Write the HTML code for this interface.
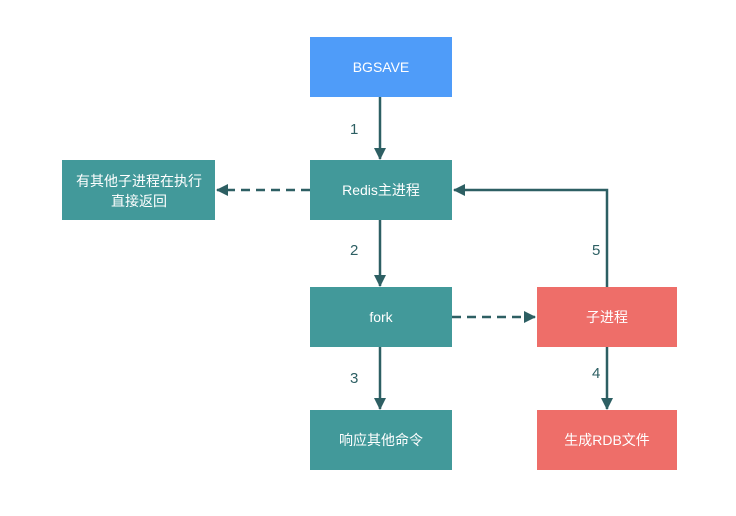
<!DOCTYPE html>
<html><head><meta charset="utf-8"><style>
body{margin:0;background:#fff;width:736px;height:511px;overflow:hidden}
svg text{font-family:"Liberation Sans","Noto Sans CJK SC",sans-serif;font-size:14px}
</style></head><body>
<svg width="736" height="511" xmlns="http://www.w3.org/2000/svg">
<defs><marker id="a" markerWidth="12" markerHeight="12" refX="11" refY="6" orient="auto" markerUnits="userSpaceOnUse"><path d="M0,0 L12,6 L0,12 z" fill="#2d5f63"/></marker></defs>
<g fill="#42999a">
<rect x="310" y="160" width="142" height="60"/>
<rect x="62" y="160" width="153" height="60"/>
<rect x="310" y="287" width="142" height="60"/>
<rect x="310" y="410" width="142" height="60"/>
</g>
<rect x="310" y="37" width="142" height="60" fill="#4f9cf9"/>
<rect x="537" y="287" width="140" height="60" fill="#ee6e69"/>
<rect x="537" y="410" width="140" height="60" fill="#ee6e69"/>
<g stroke="#2d5f63" stroke-width="2.5" fill="none">
<line x1="380" y1="97" x2="380" y2="159" marker-end="url(#a)"/>
<line x1="380" y1="220" x2="380" y2="286" marker-end="url(#a)"/>
<line x1="380" y1="347" x2="380" y2="409" marker-end="url(#a)"/>
<line x1="607" y1="347" x2="607" y2="409" marker-end="url(#a)"/>
<line x1="310" y1="190" x2="217" y2="190" stroke-dasharray="9,6" marker-end="url(#a)"/>
<line x1="452" y1="317" x2="535" y2="317" stroke-dasharray="9,6" marker-end="url(#a)"/>
<polyline points="607,287 607,190 454,190" marker-end="url(#a)"/>
</g>
<g fill="#fff" text-anchor="middle">
<text x="381" y="72">BGSAVE</text>
<text x="381" y="195">Redis主进程</text>
<text x="139" y="186">有其他子进程在执行</text>
<text x="139" y="206">直接返回</text>
<text x="381" y="322">fork</text>
<text x="381" y="445">响应其他命令</text>
<text x="607" y="322">子进程</text>
<text x="607" y="445">生成RDB文件</text>
</g>
<g fill="#2d5f63">
<text x="350" y="134" style="font-size:15px">1</text>
<text x="350" y="255" style="font-size:15px">2</text>
<text x="350" y="383" style="font-size:15px">3</text>
<text x="592" y="378" style="font-size:15px">4</text>
<text x="592" y="255" style="font-size:15px">5</text>
</g>
</svg>
</body></html>
